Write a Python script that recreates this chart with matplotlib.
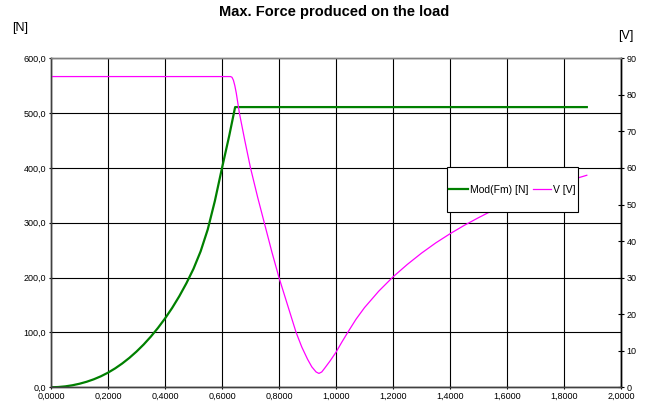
import numpy as np
import matplotlib.pyplot as plt
from matplotlib.patches import Rectangle
from matplotlib.ticker import FuncFormatter, MultipleLocator

plt.rcParams['font.family'] = ['Liberation Sans', 'DejaVu Sans']

# force on the load [N] vs time
t_force = [0.0, 0.025, 0.05, 0.075, 0.10, 0.125, 0.15, 0.175, 0.20, 0.225, 0.25, 0.275,
           0.30, 0.325, 0.35, 0.375, 0.40, 0.425, 0.45, 0.475, 0.50, 0.525, 0.55, 0.575,
           0.60, 0.625, 0.646, 1.88]
force = [0.0, 0.5, 1.7, 3.7, 6.5, 10.1, 14.6, 20.1, 26.7, 34.5, 43.5, 53.7,
         65.2, 78.0, 92.3, 108.1, 125.5, 144.7, 166.0, 189.7, 216.2, 248.0, 288.0, 340.0,
         400.0, 458.0, 511.0, 511.0]

# supply voltage [V] vs time
t_volt = [0.0, 0.62, 0.63, 0.635, 0.64, 0.645, 0.65, 0.655, 0.661, 0.68, 0.70, 0.725,
          0.75, 0.775, 0.80, 0.83, 0.86, 0.88, 0.90, 0.915, 0.93, 0.94, 0.95, 0.96,
          0.98, 1.00, 1.02, 1.041, 1.07, 1.10, 1.15, 1.20, 1.25, 1.30, 1.35, 1.40,
          1.45, 1.50, 1.55, 1.60, 1.65, 1.70, 1.75, 1.80, 1.85, 1.88]
volt = [85.0, 85.0, 85.0, 84.8, 84.0, 82.5, 80.5, 78.0, 75.0, 67.5, 60.0, 52.0,
        44.5, 37.0, 30.0, 22.5, 15.0, 11.0, 7.7, 5.6, 4.2, 3.8, 4.2, 5.2,
        7.3, 9.6, 12.3, 15.0, 18.6, 21.8, 26.3, 30.2, 33.6, 36.7, 39.5, 42.0,
        44.3, 46.4, 48.4, 50.2, 51.9, 53.5, 55.0, 56.3, 57.3, 58.0]

fig = plt.figure(figsize=(6.45, 4.07), dpi=100)
ax = fig.add_axes([0.0791, 0.0484, 0.8837, 0.8084])
ax2 = ax.twinx()

l1, = ax.plot(t_force, force, color='#008000', lw=1.6, label='Mod(Fm) [N]')
l2, = ax2.plot(t_volt, volt, color='#FF00FF', lw=0.9, label='V [V]')

ax.set_xlim(0, 2.0)
ax.set_ylim(0, 600)
ax2.set_ylim(0, 90)

ax.xaxis.set_major_locator(MultipleLocator(0.2))
ax.yaxis.set_major_locator(MultipleLocator(100))
ax2.yaxis.set_major_locator(MultipleLocator(10))
ax.xaxis.set_major_formatter(FuncFormatter(lambda v, p: ('%.4f' % v).replace('.', ',')))
ax.yaxis.set_major_formatter(FuncFormatter(lambda v, p: ('%.1f' % v).replace('.', ',')))

ax.grid(True, color='black', lw=0.8)
ax.set_axisbelow(True)

ax.tick_params(axis='both', labelsize=6.5, length=3, width=0.8, pad=2, direction='inout')
ax2.tick_params(axis='y', labelsize=6.5, length=4, width=0.8, pad=2, direction='inout')

for a in (ax, ax2):
    a.spines['top'].set_color('#808080')
    a.spines['left'].set_color('#404040')
    a.spines['bottom'].set_color('#404040')
    a.spines['right'].set_color('black')
    for s in a.spines.values():
        s.set_linewidth(1.0)

# legend box: tight at the sides, tall, so the frame is drawn on its own
box = Rectangle((447 / 645, 195 / 407), 131 / 645, 45 / 407, transform=fig.transFigure,
                facecolor='white', edgecolor='black', lw=0.8, zorder=5)
ax2.add_artist(box)
box.set_clip_on(False)
leg = ax2.legend(handles=[l1, l2], ncol=2, fontsize=7.5, loc='center',
                 bbox_to_anchor=(512.5 / 645, 217.5 / 407), bbox_transform=fig.transFigure,
                 frameon=False, handlelength=1.75, handletextpad=0.2,
                 columnspacing=0.45, borderpad=0.2, borderaxespad=0)
leg.set_zorder(6)

fig.text(0.518, 0.970, 'Max. Force produced on the load', ha='center', va='center',
         fontsize=10.5, fontweight='bold')
fig.text(0.031, 0.930, '[N]', ha='center', va='center', fontsize=9)
fig.text(0.970, 0.912, '[V]', ha='center', va='center', fontsize=9)

fig.savefig('out.png', dpi=100)
